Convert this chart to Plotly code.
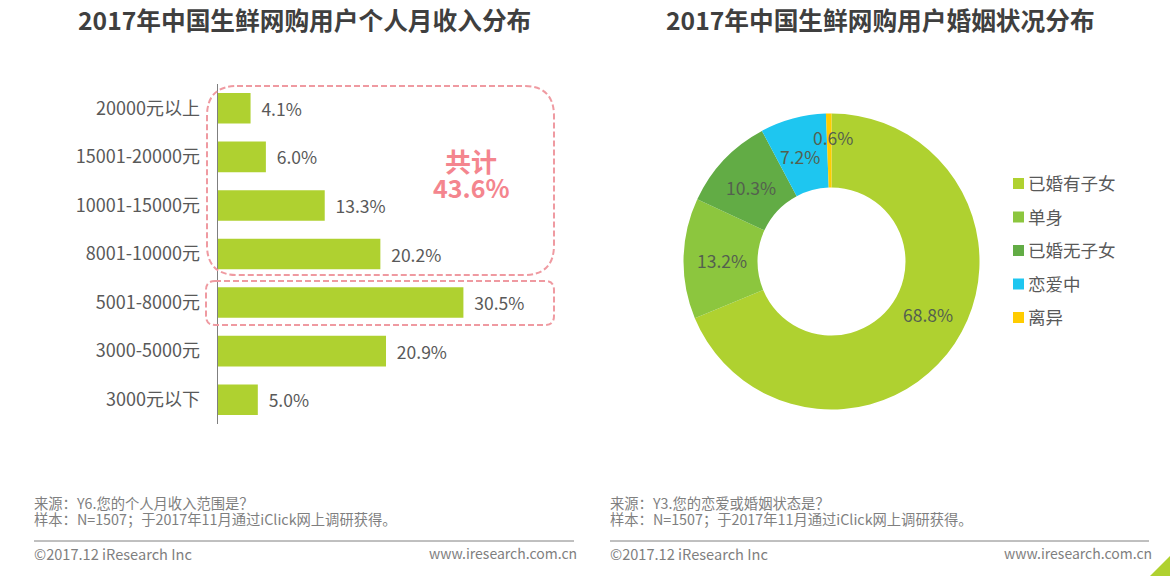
import math
import plotly.graph_objects as go

W, H = 1170, 576
FONT = 'Noto Sans CJK SC'

income = ['20000元以上', '15001-20000元', '10001-15000元', '8001-10000元', '5001-8000元', '3000-5000元', '3000元以下']
income_pct = [4.1, 6.0, 13.3, 20.2, 30.5, 20.9, 5.0]

marriage = ['已婚有子女', '单身', '已婚无子女', '恋爱中', '离异']
marriage_pct = [68.8, 13.2, 10.3, 7.2, 0.6]
marriage_colors = ['#afd130', '#8cc63e', '#62ac45', '#1ec6f0', '#ffcc00']


def px(x):
    return x / W


def py(y):
    return 1 - y / H


def rounded(x0, y0, x1, y1, r):
    # rounded rect in screen pixels -> paper path
    pts = [('M', x0 + r, y0), ('L', x1 - r, y0), ('Q', x1, y0, x1, y0 + r), ('L', x1, y1 - r),
           ('Q', x1, y1, x1 - r, y1), ('L', x0 + r, y1), ('Q', x0, y1, x0, y1 - r), ('L', x0, y0 + r),
           ('Q', x0, y0, x0 + r, y0)]
    out = ''
    for p in pts:
        out += p[0]
        for i in range(1, len(p), 2):
            out += f' {px(p[i]):.5f},{py(p[i + 1]):.5f} '
    return out + 'Z'


def label(x, y, text, size=14.3, color='#7f7f7f', anchor='left', bold=False):
    if bold:
        text = f'<b>{text}</b>'
    fig.add_annotation(xref='paper', yref='paper', x=px(x), y=py(y), text=text, showarrow=False,
                       xanchor=anchor, yanchor='middle', align=anchor, borderpad=0, borderwidth=0,
                       font=dict(size=size, color=color, family=FONT))


fig = go.Figure()

fig.add_trace(go.Bar(y=income, x=income_pct, orientation='h', marker_color='#afd130', marker_line_width=0,
                     text=['\u00a0\u00a0' + f'{v:.1f}%' for v in income_pct], textposition='outside',
                     textfont=dict(size=17.5, color='#595959', family=FONT), cliponaxis=False,
                     hoverinfo='skip', showlegend=False))

fig.add_trace(go.Pie(labels=marriage, values=marriage_pct, hole=0.5, sort=False, direction='clockwise', rotation=0,
                     marker=dict(colors=marriage_colors, line=dict(width=0)), textinfo='none',
                     domain=dict(x=[px(683.5), px(979.5)], y=[py(409.5), py(113.5)]), showlegend=False))

fig.update_layout(
    width=W, height=H, autosize=False, margin=dict(l=0, r=0, t=0, b=0),
    paper_bgcolor='white', plot_bgcolor='white', bargap=0.37,
    font=dict(family=FONT, color='#595959'),
    xaxis=dict(domain=[px(217.5), px(540)], range=[0, 40], visible=False),
    yaxis=dict(domain=[py(424), py(84)], autorange='reversed', showline=True, linecolor='#7f7f7f', linewidth=1,
               showgrid=False, ticks='', ticklabelstandoff=13, tickfont=dict(size=18, color='#595959', family=FONT)),
)

# titles
label(304.5, 19.5, '2017年中国生鲜网购用户个人月收入分布', size=24.7, color='#3f3f3f', anchor='center', bold=True)
label(880, 19.5, '2017年中国生鲜网购用户婚姻状况分布', size=24.7, color='#3f3f3f', anchor='center', bold=True)

# highlight boxes on the bars
for box in [(207, 86, 554, 275, 30), (206, 281, 554, 325, 9)]:
    fig.add_shape(type='path', xref='paper', yref='paper', path=rounded(*box),
                  line=dict(color='#ef9aa1', width=2, dash='6px,3px'))
label(471, 160, '共计', size=26, color='#f4858e', anchor='center', bold=True)
label(471, 187, '43.6%', size=25, color='#f4858e', anchor='center', bold=True)

# donut labels, placed from the cumulative share
nudge = [(5, -8), (0, 1), (-1, 2), (-3, 1), (4, 0)]  # original text is not exactly on the mid angle
cum = 0
for v, (dx, dy) in zip(marriage_pct, nudge):
    ang = 2 * math.pi * (cum + v / 2) / sum(marriage_pct)
    cum += v
    r = 110 if v > 1 else 124
    x = 831.5 + r * math.sin(ang) + dx
    y = 261.5 - r * math.cos(ang) + dy
    label(x, y, f'{v:.1f}%', size=17.5, color='#54604f', anchor='center')

# legend
for i, (name, c) in enumerate(zip(marriage, marriage_colors)):
    yc = 183.5 + i * 33.5
    fig.add_shape(type='rect', xref='paper', yref='paper', x0=px(1013), x1=px(1024), y0=py(yc + 5.5), y1=py(yc - 5.5),
                  fillcolor=c, line_width=0)
    label(1028, yc - 1, name, size=17.5, color='#595959')

# footers
for x0, x1, xr, src in [(34, 574, 577, '来源：Y6.您的个人月收入范围是？'), (610, 1149, 1152, '来源：Y3.您的恋爱或婚姻状态是？')]:
    label(x0 - 0.5, 502, src)
    label(x0 - 0.5, 518, '样本：N=1507；于2017年11月通过iClick网上调研获得。')
    fig.add_shape(type='line', xref='paper', yref='paper', x0=px(x0), x1=px(x1), y0=py(541), y1=py(541),
                  line=dict(color='#808080', width=1))
    label(x0 - 0.5, 553, '©2017.12 iResearch Inc', size=14.6)
    label(xr, 553, 'www.iresearch.com.cn', size=14, anchor='right')

# corner mark
fig.add_shape(type='path', xref='paper', yref='paper', line_width=0, fillcolor='#afd130',
              path=f'M {px(1150)},{py(576)} L {px(1170)},{py(556)} L {px(1170)},{py(576)} Z')

# page body has an 8px margin by default, the chart should sit at 0,0
fig.write_html('out.html', config=dict(displayModeBar=False),
               post_script="document.body.style.margin='0';document.body.style.overflow='hidden';")
